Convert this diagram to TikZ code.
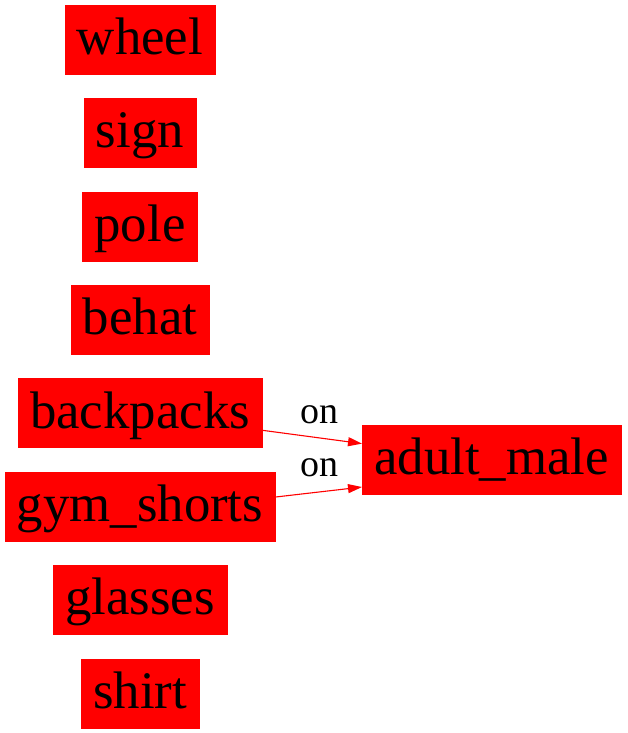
\documentclass[tikz,border=0pt]{standalone}
\usepackage{fontspec}
\setmainfont{Liberation Serif}
\usetikzlibrary{positioning,arrows.meta}
\definecolor{objRed}{HTML}{FF0000}

\begin{document}
\begin{tikzpicture}[
  x=1pt, y=-1pt,
  >={Triangle[length=14pt, width=9pt]},
  obj/.style={draw=objRed, fill=objRed, inner xsep=12pt, inner ysep=0pt,
              minimum height=69pt, text height=40pt, text depth=10pt,
              font=\fontsize{52.8}{60}\selectfont},
  rel/.style={->, color=objRed, line width=1.1pt},
  lbl/.style={font=\fontsize{38}{44}\selectfont, inner sep=0pt}
]
\useasboundingbox (0,0) rectangle (627,733);

\node[obj] (wheel) at (140,39.5) {wheel};
\node[obj, below=24pt of wheel] (sign) {sign};
\node[obj, below=24pt of sign] (pole) {pole};
\node[obj, below=24pt of pole] (behat) {behat};
\node[obj, below=24pt of behat] (backpacks) {backpacks};
\node[obj, below=24pt of backpacks] (gymshorts) {gym\_shorts};
\node[obj, below=24pt of gymshorts] (glasses) {glasses};
\node[obj, below=24pt of glasses] (shirt) {shirt};

\node[obj] (adultmale) at (491.5,459.5) {adult\_male};

\node[lbl] (on1) at (319,415) {on};
\node[lbl] (on2) at (319,468) {on};

\draw[rel] (backpacks.-8) -- (adultmale.173);
\draw[rel] (gymshorts.4) -- (adultmale.-168);

\end{tikzpicture}
\end{document}
